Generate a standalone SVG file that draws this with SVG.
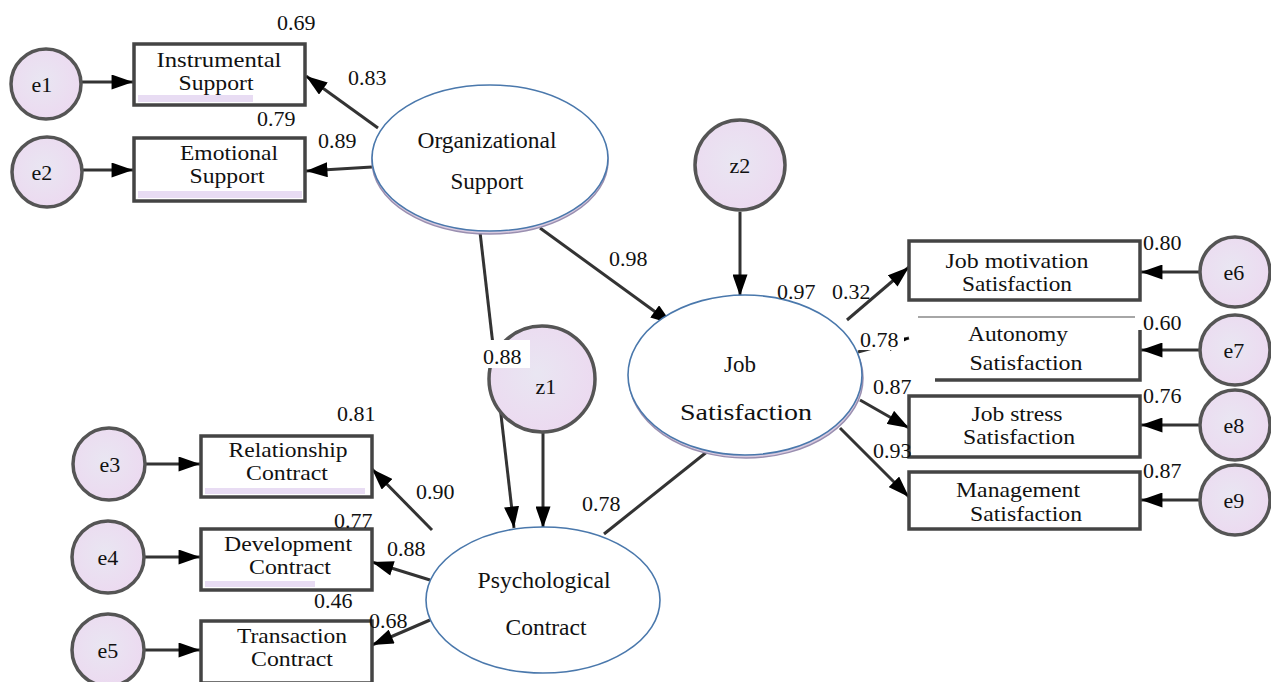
<svg xmlns="http://www.w3.org/2000/svg" width="1271" height="682" viewBox="0 0 1271 682">
<defs>
<marker id="ah" viewBox="0 0 20 14" refX="20" refY="7" markerWidth="22" markerHeight="15" markerUnits="userSpaceOnUse" orient="auto">
<path d="M0,0 L20,7 L0,14 Z" fill="#000"/>
</marker>
<radialGradient id="eg" cx="0.45" cy="0.45" r="0.6">
<stop offset="0" stop-color="#e9e6f2"/>
<stop offset="1" stop-color="#ecd9f0"/>
</radialGradient>
</defs>
<style>
.c{text-anchor:middle}
.err{fill:url(#eg);stroke:#555;stroke-width:3.5}
.box{fill:#fff;stroke:#444;stroke-width:3.5}
.strip{fill:#e8dcf3}
.lat{fill:#fff;stroke:#4a78ac;stroke-width:1.6}
.sh{fill:#d9cbe0;stroke:#9a8fb0;stroke-width:1.5}
.ln{stroke:#333;stroke-width:3;fill:none}
.ar{stroke:#333;stroke-width:3;fill:none;marker-end:url(#ah)}
.bg{fill:#fff}
</style>
<rect width="1271" height="682" fill="#fff"/>

<g id="connectors">
<line class="ar" x1="82" y1="82" x2="133" y2="82"/>
<line class="ar" x1="83" y1="170" x2="133" y2="170"/>
<line class="ar" x1="378" y1="128" x2="306" y2="76"/>
<line class="ar" x1="372" y1="167" x2="306" y2="171"/>
<line class="ar" x1="480" y1="232" x2="514" y2="528"/>
<line class="ar" x1="540" y1="228" x2="672" y2="324"/>
<line class="ar" x1="740" y1="212" x2="740" y2="296"/>
<line class="ar" x1="543" y1="433" x2="543" y2="528"/>
<line class="ln" x1="708" y1="451" x2="604" y2="534"/>
<line class="ar" x1="847" y1="320" x2="909" y2="267"/>
<line class="ar" x1="858" y1="352" x2="909" y2="338"/>
<line class="ar" x1="860" y1="400" x2="909" y2="428"/>
<line class="ar" x1="840" y1="428" x2="909" y2="497"/>
<line class="ar" x1="1200" y1="272" x2="1141" y2="272"/>
<line class="ar" x1="1200" y1="350" x2="1141" y2="350"/>
<line class="ar" x1="1200" y1="425" x2="1141" y2="425"/>
<line class="ar" x1="1200" y1="500" x2="1141" y2="500"/>
<line class="ar" x1="146" y1="464" x2="200" y2="464"/>
<line class="ar" x1="144" y1="557" x2="200" y2="557"/>
<line class="ar" x1="144" y1="650" x2="200" y2="650"/>
<line class="ar" x1="432" y1="530" x2="372" y2="469"/>
<line class="ar" x1="430" y1="580" x2="372" y2="562"/>
<line class="ar" x1="430" y1="620" x2="372" y2="645"/>
</g>

<g font-family="Liberation Serif, Times New Roman, serif" font-size="22" fill="#111">
<g id="e1"><circle class="err" cx="46" cy="84" r="35"/><text class="c" x="42" y="92">e1</text></g>
<g id="e2"><circle class="err" cx="47" cy="172" r="35"/><text class="c" x="42" y="180">e2</text></g>
<g id="e3"><circle class="err" cx="109" cy="464" r="36"/><text class="c" x="110" y="472">e3</text></g>
<g id="e4"><circle class="err" cx="108" cy="557" r="36"/><text class="c" x="108" y="565">e4</text></g>
<g id="e5"><circle class="err" cx="108" cy="650" r="36"/><text class="c" x="108" y="658">e5</text></g>
<g id="e6"><circle class="err" cx="1235" cy="272" r="35"/><text class="c" x="1234" y="280">e6</text></g>
<g id="e7"><circle class="err" cx="1235" cy="350" r="35"/><text class="c" x="1234" y="358">e7</text></g>
<g id="e8"><circle class="err" cx="1235" cy="425" r="35"/><text class="c" x="1234" y="433">e8</text></g>
<g id="e9"><circle class="err" cx="1235" cy="500" r="35"/><text class="c" x="1234" y="508">e9</text></g>
<g id="z1"><circle class="err" cx="542" cy="379" r="53"/><text class="c" x="546" y="394">z1</text></g>
<g id="z2"><circle class="err" cx="740" cy="165" r="45"/><text class="c" x="740" y="173">z2</text></g>

<g id="instrumental"><rect class="box" x="134" y="44" width="171" height="61"/><rect class="strip" x="138" y="95" width="115" height="7"/><text class="c" x="219" y="67" textLength="125" lengthAdjust="spacingAndGlyphs">Instrumental</text><text class="c" x="216" y="90" textLength="75" lengthAdjust="spacingAndGlyphs">Support</text></g>
<g id="emotional"><rect class="box" x="134" y="138" width="171" height="63"/><rect class="strip" x="138" y="191" width="164" height="7"/><text class="c" x="229" y="160" textLength="98" lengthAdjust="spacingAndGlyphs">Emotional</text><text class="c" x="227" y="183" textLength="75" lengthAdjust="spacingAndGlyphs">Support</text></g>
<g id="relationship"><rect class="box" x="201" y="436" width="171" height="61"/><rect class="strip" x="205" y="488" width="160" height="6"/><text class="c" x="288" y="457" textLength="119" lengthAdjust="spacingAndGlyphs">Relationship</text><text class="c" x="287" y="480" textLength="82" lengthAdjust="spacingAndGlyphs">Contract</text></g>
<g id="development"><rect class="box" x="201" y="529" width="171" height="61"/><rect class="strip" x="205" y="581" width="110" height="6"/><text class="c" x="288" y="551" textLength="128" lengthAdjust="spacingAndGlyphs">Development</text><text class="c" x="290" y="574" textLength="82" lengthAdjust="spacingAndGlyphs">Contract</text></g>
<g id="transaction"><rect class="box" x="201" y="621" width="171" height="62"/><text class="c" x="292" y="643" textLength="110" lengthAdjust="spacingAndGlyphs">Transaction</text><text class="c" x="292" y="666" textLength="82" lengthAdjust="spacingAndGlyphs">Contract</text></g>
<g id="jobmotivation"><rect class="box" x="909" y="241" width="231" height="59"/><text class="c" x="1017" y="268" textLength="143" lengthAdjust="spacingAndGlyphs">Job motivation</text><text class="c" x="1017" y="291" textLength="110" lengthAdjust="spacingAndGlyphs">Satisfaction</text></g>
<g id="autonomy"><line x1="918" y1="317" x2="1135" y2="317" stroke="#888" stroke-width="1.5"/><polyline points="1140,330 1140,380 935,380" fill="none" stroke="#444" stroke-width="3.5"/><text class="c" x="1018" y="341" textLength="100" lengthAdjust="spacingAndGlyphs">Autonomy</text><text class="c" x="1026" y="370" textLength="113" lengthAdjust="spacingAndGlyphs">Satisfaction</text></g>
<g id="jobstress"><rect class="box" x="909" y="396" width="231" height="61"/><text class="c" x="1017" y="421" textLength="91" lengthAdjust="spacingAndGlyphs">Job stress</text><text class="c" x="1019" y="444" textLength="112" lengthAdjust="spacingAndGlyphs">Satisfaction</text></g>
<g id="management"><rect class="box" x="909" y="472" width="231" height="57"/><text class="c" x="1018" y="497" textLength="124" lengthAdjust="spacingAndGlyphs">Management</text><text class="c" x="1026" y="521" textLength="112" lengthAdjust="spacingAndGlyphs">Satisfaction</text></g>

<g id="orgsupport" font-size="23"><ellipse class="sh" cx="490" cy="161" rx="118" ry="73"/><ellipse class="lat" cx="490" cy="158" rx="118" ry="73"/><text class="c" x="487" y="148" textLength="139" lengthAdjust="spacingAndGlyphs">Organizational</text><text class="c" x="487" y="189" textLength="73" lengthAdjust="spacingAndGlyphs">Support</text></g>
<g id="jobsat" font-size="23"><ellipse class="sh" cx="746" cy="378" rx="117" ry="80"/><ellipse class="lat" cx="745" cy="375" rx="117" ry="80"/><text class="c" x="740" y="372">Job</text><text class="c" x="746" y="420" textLength="132" lengthAdjust="spacingAndGlyphs">Satisfaction</text></g>
<g id="psych" font-size="23"><ellipse class="lat" cx="543" cy="600" rx="117" ry="73"/><text class="c" x="544" y="588" textLength="133" lengthAdjust="spacingAndGlyphs">Psychological</text><text class="c" x="546" y="635" textLength="81" lengthAdjust="spacingAndGlyphs">Contract</text></g>

<g id="labels">
<rect class="bg" x="860" y="328" width="44" height="22"/>
<text x="277" y="30">0.69</text>
<text x="348" y="85">0.83</text>
<text x="257" y="126">0.79</text>
<text x="318" y="148">0.89</text>
<text x="609" y="266">0.98</text>
<rect class="bg" x="480" y="340" width="50" height="28"/>
<text x="483" y="364">0.88</text>
<text x="777" y="299">0.97</text>
<text x="832" y="299">0.32</text>
<text x="860" y="347">0.78</text>
<text x="873" y="394">0.87</text>
<text x="873" y="458">0.93</text>
<text x="1143" y="250">0.80</text>
<text x="1143" y="330">0.60</text>
<text x="1143" y="403">0.76</text>
<text x="1143" y="478">0.87</text>
<text x="337" y="421">0.81</text>
<text x="416" y="499">0.90</text>
<text x="334" y="528">0.77</text>
<text x="387" y="556">0.88</text>
<text x="314" y="608">0.46</text>
<text x="369" y="628">0.68</text>
<text x="582" y="511">0.78</text>
</g>
</g>
</svg>
